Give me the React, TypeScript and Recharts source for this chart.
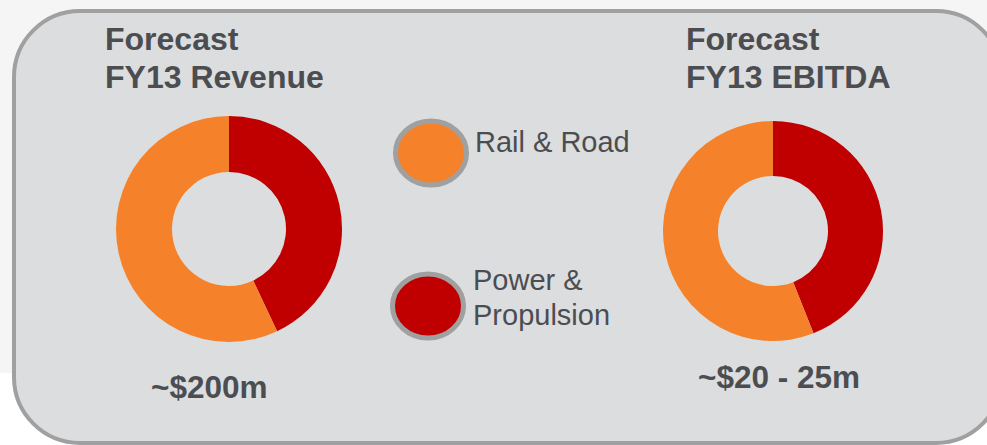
import React from "react";
import { PieChart, Pie, Cell } from "recharts";

const segments = ["Power & Propulsion", "Rail & Road"];
const segmentColors = ["#c00000", "#f5822a"];
const revenueShare = [43, 57];
const ebitdaShare = [44, 56];
const revenueTitle = ["Forecast", "FY13 Revenue"];
const ebitdaTitle = ["Forecast", "FY13 EBITDA"];
const revenueLabel = "~$200m";
const ebitdaLabel = "~$20 - 25m";
const legendOrder = ["Rail & Road", "Power & Propulsion"];
const legendLines = [["Rail & Road"], ["Power &", "Propulsion"]];

const revenueData = segments.map((name, i) => ({ name, value: revenueShare[i] }));
const ebitdaData = segments.map((name, i) => ({ name, value: ebitdaShare[i] }));

const FONT = "'Liberation Sans', Arial, Helvetica, sans-serif";
const TEXT = "#4b4d51";

export default function App() {
  const legendPos = [
    { cx: 431, cy: 153, tx: 475, ty: [152] },
    { cx: 428, cy: 306, tx: 473, ty: [290, 325] },
  ];
  return (
    <div
      style={{
        position: "absolute",
        left: 0,
        top: 0,
        width: 987,
        height: 445,
        overflow: "hidden",
        background: "#ffffff",
        fontFamily: FONT,
      }}
    >
      <div style={{ position: "absolute", left: 0, top: 0, width: 987, height: 373, background: "#f5f5f5" }} />
      <div
        style={{
          position: "absolute",
          left: 12,
          top: 9,
          width: 992,
          height: 436,
          boxSizing: "border-box",
          border: "4px solid #a0a0a0",
          borderRadius: 68,
          background: "#dcdddf",
        }}
      />
      <div style={{ position: "absolute", left: 0, top: 0 }}>
        <PieChart width={987} height={445} margin={{ top: 0, right: 0, bottom: 0, left: 0 }}>
          <Pie
            data={revenueData}
            dataKey="value"
            nameKey="name"
            cx={229}
            cy={229}
            outerRadius={113}
            innerRadius={57}
            startAngle={90}
            endAngle={-270}
            stroke="none"
            isAnimationActive={false}
          >
            {revenueData.map((d, i) => (
              <Cell key={d.name} fill={segmentColors[i]} />
            ))}
          </Pie>
          <Pie
            data={ebitdaData}
            dataKey="value"
            nameKey="name"
            cx={773}
            cy={231}
            outerRadius={110}
            innerRadius={55}
            startAngle={90}
            endAngle={-270}
            stroke="none"
            isAnimationActive={false}
          >
            {ebitdaData.map((d, i) => (
              <Cell key={d.name} fill={segmentColors[i]} />
            ))}
          </Pie>
        </PieChart>
      </div>
      <svg
        width={987}
        height={445}
        style={{ position: "absolute", left: 0, top: 0, pointerEvents: "none" }}
      >
        {revenueTitle.map((t, i) => (
          <text key={"rt" + i} x={105} y={50 + i * 38} fontFamily={FONT} fontWeight="bold" fontSize={32} fill={TEXT}>
            {t}
          </text>
        ))}
        {ebitdaTitle.map((t, i) => (
          <text key={"et" + i} x={686} y={50 + i * 38} fontFamily={FONT} fontWeight="bold" fontSize={32} fill={TEXT}>
            {t}
          </text>
        ))}
        <text x={151} y={398} fontFamily={FONT} fontWeight="bold" fontSize={31.5} fill={TEXT}>
          {revenueLabel}
        </text>
        <text x={698} y={388} fontFamily={FONT} fontWeight="bold" fontSize={31.5} fill={TEXT}>
          {ebitdaLabel}
        </text>
        {legendOrder.map((name, i) => {
          const p = legendPos[i];
          const color = segmentColors[segments.indexOf(name)];
          return (
            <g key={name}>
              <ellipse cx={p.cx} cy={p.cy} rx={35.5} ry={32} fill={color} stroke="#a0a0a0" strokeWidth={5} />
              {legendLines[i].map((line, j) => (
                <text key={j} x={p.tx} y={p.ty[j]} fontFamily={FONT} fontSize={29} fill={TEXT}>
                  {line}
                </text>
              ))}
            </g>
          );
        })}
      </svg>
    </div>
  );
}
